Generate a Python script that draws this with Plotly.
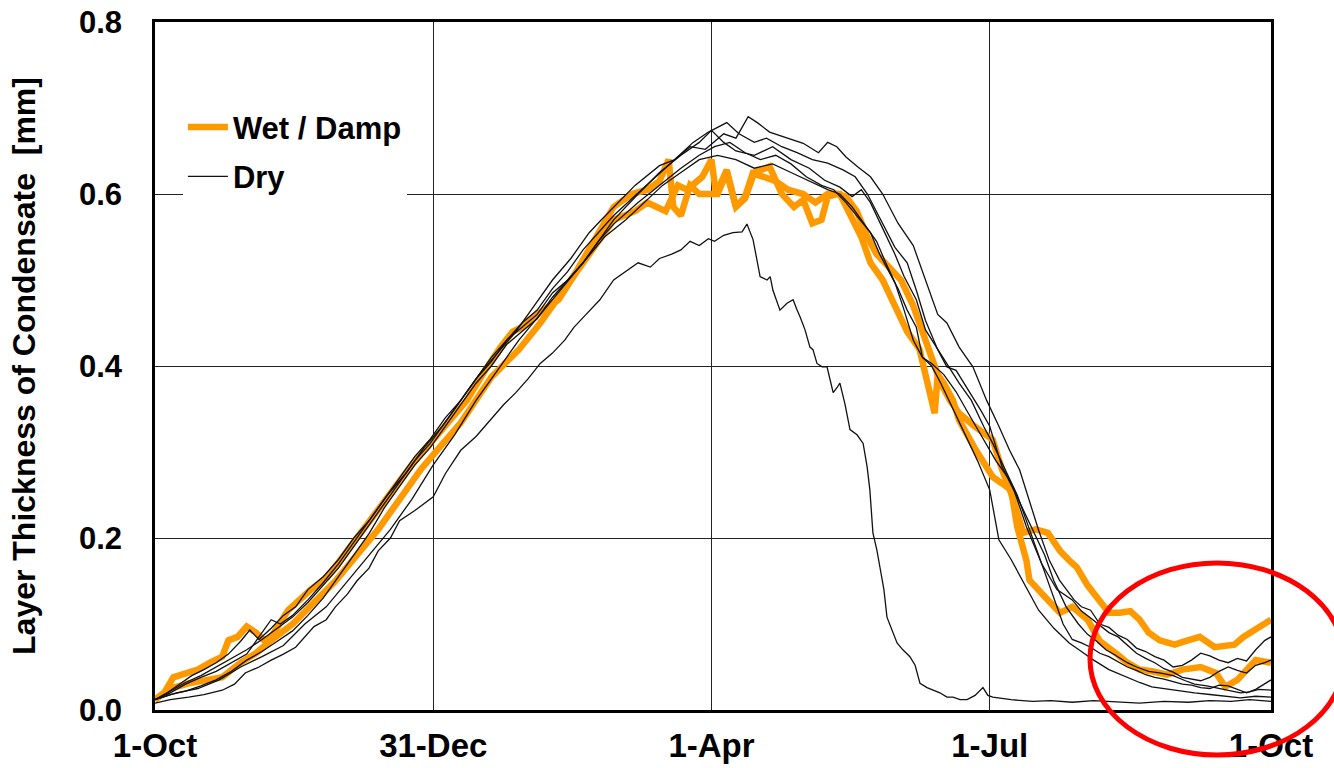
import plotly.graph_objects as go

# ---------------- data (day of year from 1-Oct, thickness in mm) ----------------
tick_days = [0, 91, 182, 273, 365]
tick_labels = ["1-Oct", "31-Dec", "1-Apr", "1-Jul", "1-Oct"]

wet1_days = [0, 3, 6, 10, 14, 18, 22, 24, 27, 30, 33, 36, 38, 43.5, 51, 56.5, 63, 70, 77, 84, 91, 98, 102,
             108, 113, 117, 120, 125, 132, 137, 141, 145, 150, 156, 161, 165, 168, 169.5, 172, 175, 178, 181,
             184, 187, 190, 193, 196, 201, 205, 209, 212, 215, 218, 220, 223, 226, 229.5, 233, 236, 240, 244,
             248, 251, 254, 257, 260, 263, 268, 274, 277, 280, 284, 288, 292, 296, 299, 301.5, 305, 309, 312,
             315.6, 319, 322, 325, 328.6, 333.5, 337, 341.7, 346.6, 353, 356, 359.7, 365]
wet1_vals = [0.012, 0.02, 0.038, 0.042, 0.047, 0.055, 0.062, 0.081, 0.085, 0.097, 0.09, 0.08, 0.085, 0.116,
             0.14, 0.155, 0.185, 0.22, 0.25, 0.285, 0.314, 0.345, 0.36, 0.395, 0.422, 0.44, 0.445, 0.46, 0.477,
             0.505, 0.53, 0.555, 0.585, 0.6, 0.605, 0.615, 0.64, 0.585, 0.575, 0.61, 0.6, 0.6, 0.6, 0.625,
             0.585, 0.595, 0.625, 0.632, 0.6, 0.585, 0.593, 0.566, 0.57, 0.597, 0.6, 0.597, 0.58, 0.55, 0.53,
             0.515, 0.5, 0.47, 0.44, 0.41, 0.38, 0.36, 0.345, 0.33, 0.314, 0.28, 0.252, 0.206, 0.21, 0.206,
             0.185, 0.174, 0.166, 0.145, 0.128, 0.113, 0.113, 0.115, 0.105, 0.09, 0.081, 0.076, 0.08, 0.085,
             0.073, 0.076, 0.085, 0.093, 0.105]

wet2_days = [0, 5, 11, 18, 22, 28, 33, 38, 45, 52, 59, 66, 73, 80, 87, 93, 100, 110, 119, 126, 133, 140, 146,
             150, 157, 161, 167, 171, 174, 179, 182, 183.5, 187, 190, 193, 195.5, 199, 203, 207, 212, 216, 220,
             224, 228, 231, 234, 238, 242, 246, 250, 252, 254, 255, 256, 258, 261, 263, 268, 274, 280, 282, 285,
             286, 292, 296, 300, 305, 309, 312, 315, 318, 322, 326, 331, 336, 342, 347, 350, 354, 360, 365]
wet2_vals = [0.012, 0.025, 0.031, 0.035, 0.038, 0.055, 0.066, 0.081, 0.1, 0.125, 0.15, 0.18, 0.21, 0.245,
             0.28, 0.305, 0.334, 0.387, 0.419, 0.45, 0.485, 0.52, 0.55, 0.57, 0.58, 0.59, 0.58, 0.61, 0.605,
             0.62, 0.64, 0.6, 0.628, 0.585, 0.597, 0.624, 0.62, 0.615, 0.605, 0.6, 0.59, 0.6, 0.6, 0.57, 0.55,
             0.52, 0.5, 0.47, 0.44, 0.42, 0.39, 0.36, 0.345, 0.39, 0.38, 0.36, 0.337, 0.305, 0.271, 0.256, 0.213,
             0.174, 0.151, 0.128, 0.113, 0.12, 0.105, 0.08, 0.073, 0.064, 0.055, 0.047, 0.045, 0.041, 0.047,
             0.05, 0.043, 0.027, 0.035, 0.058, 0.055]

dry1_days = [0, 5, 11, 16, 22, 26, 29.5, 34, 38, 42, 46, 49, 52, 56, 59, 63, 66, 70, 73, 77, 80, 85, 91, 95,
             100, 105, 110.5, 114, 118, 122, 126, 130, 134, 137, 141, 145.5, 150, 154, 158, 162, 165, 169, 172,
             175, 178, 181, 183, 186, 189, 192, 193.6, 195.6, 196.9, 197.9, 200.2, 201.2, 202.1, 204.4, 206.7,
             208.7, 210, 211, 212.6, 214.2, 215.2, 216.5, 218.2, 219.8, 220.8, 221.8, 223.1, 224, 225.7, 227.3,
             229.6, 231.6, 232.9, 233.8, 234.8, 236.1, 237.1, 238.4, 239.4, 241, 242.7, 244.6, 246.9, 248.6,
             250.2, 252.5, 254.5, 256.7, 259, 261, 263.3, 265.6, 268.2, 270.8, 272.4, 274, 280, 287, 293, 300,
             307, 314, 322, 330, 338, 345, 352, 358, 365]
dry1_vals = [0.008, 0.012, 0.015, 0.018, 0.023, 0.03, 0.043, 0.05, 0.058, 0.065, 0.073, 0.085, 0.097, 0.105,
             0.12, 0.135, 0.15, 0.165, 0.185, 0.2, 0.22, 0.232, 0.248, 0.275, 0.302, 0.318, 0.34, 0.355, 0.369,
             0.385, 0.403, 0.415, 0.43, 0.445, 0.46, 0.477, 0.5, 0.51, 0.52, 0.515, 0.525, 0.53, 0.535, 0.545,
             0.54, 0.548, 0.545, 0.552, 0.555, 0.556, 0.565, 0.547, 0.523, 0.504, 0.5, 0.504, 0.488, 0.465,
             0.473, 0.477, 0.465, 0.457, 0.442, 0.422, 0.419, 0.403, 0.399, 0.399, 0.384, 0.369, 0.375, 0.38,
             0.355, 0.326, 0.32, 0.31, 0.283, 0.256, 0.206, 0.186, 0.166, 0.14, 0.108, 0.093, 0.078, 0.07,
             0.062, 0.052, 0.031, 0.026, 0.023, 0.02, 0.015, 0.015, 0.012, 0.012, 0.017, 0.026, 0.017, 0.015,
             0.012, 0.01, 0.011, 0.009, 0.011, 0.01, 0.008, 0.01, 0.009, 0.011, 0.01, 0.012, 0.01]

dry2_days = [0, 4, 8, 12, 16, 20, 24, 28, 31, 34, 38, 42, 46, 50, 55, 60, 65, 70, 76, 82, 88, 94, 100, 106,
             112, 118, 124, 130, 136, 142, 146, 150, 157, 165, 170, 175, 180, 186, 190, 194, 197, 201, 206, 212,
             217, 220, 223, 226, 230, 234, 238, 243, 248, 252, 256, 259, 263, 267.5, 272, 276, 279.5, 282.8, 286,
             289, 292.5, 295.8, 300.6, 303, 306, 309, 312, 315, 318, 321, 324, 327, 330, 333, 336, 339, 342, 345,
             348, 351, 354, 357, 360, 363, 365]
dry2_vals = [0.012, 0.02, 0.03, 0.04, 0.047, 0.055, 0.065, 0.08, 0.093, 0.082, 0.095, 0.11, 0.12, 0.14, 0.155,
             0.175, 0.2, 0.22, 0.25, 0.275, 0.305, 0.33, 0.36, 0.39, 0.415, 0.44, 0.47, 0.5, 0.525, 0.555, 0.57,
             0.585, 0.61, 0.633, 0.64, 0.655, 0.652, 0.67, 0.665, 0.69, 0.683, 0.672, 0.666, 0.659, 0.648, 0.66,
             0.655, 0.643, 0.631, 0.62, 0.6, 0.566, 0.54, 0.5, 0.46, 0.45, 0.422, 0.399, 0.36, 0.33, 0.302,
             0.279, 0.244, 0.209, 0.174, 0.151, 0.128, 0.12, 0.116, 0.1, 0.096, 0.087, 0.082, 0.072, 0.068,
             0.062, 0.058, 0.05, 0.052, 0.058, 0.066, 0.063, 0.058, 0.055, 0.06, 0.057, 0.07, 0.081, 0.085]

dry3_days = [0, 5, 10, 15, 20, 25, 30, 35, 40, 45, 50, 55, 60, 65, 70, 75, 80, 85, 90, 95, 100, 105, 110, 115,
             120, 125, 130, 135, 140, 145, 150, 157, 164, 170, 176, 181, 187, 191, 196, 200, 205, 210, 215, 220,
             225, 229, 233, 237, 242, 246, 249, 252, 256, 259, 262, 266, 270, 273, 277, 281, 285, 290, 295, 300,
             303, 306, 309, 312, 315, 318, 321, 324, 327, 330, 333, 336, 339, 342, 345, 348, 351, 354, 357, 360,
             363, 365]
dry3_vals = [0.012, 0.022, 0.032, 0.04, 0.05, 0.06, 0.07, 0.082, 0.095, 0.108, 0.125, 0.145, 0.165, 0.19,
             0.215, 0.24, 0.265, 0.29, 0.31, 0.335, 0.36, 0.385, 0.405, 0.43, 0.45, 0.465, 0.49, 0.51, 0.535,
             0.555, 0.575, 0.598, 0.62, 0.64, 0.66, 0.672, 0.683, 0.67, 0.66, 0.665, 0.655, 0.648, 0.64, 0.636,
             0.628, 0.62, 0.6, 0.573, 0.538, 0.52, 0.488, 0.453, 0.419, 0.399, 0.395, 0.372, 0.349, 0.33, 0.283,
             0.255, 0.213, 0.17, 0.14, 0.128, 0.115, 0.107, 0.098, 0.09, 0.085, 0.075, 0.066, 0.06, 0.055, 0.048,
             0.044, 0.038, 0.036, 0.034, 0.038, 0.045, 0.05, 0.046, 0.043, 0.052, 0.055, 0.058]

dry4_days = [0, 5, 10, 15, 20, 25, 30, 34, 38, 41, 45, 50, 55, 60, 65, 70, 75, 80, 85, 90, 95, 100, 105, 110,
             115, 120, 125, 130, 135, 140, 145, 150, 158, 165, 172, 178, 182, 186, 190, 196, 202, 208, 214, 219,
             224, 228, 231, 234, 238, 242, 245, 249, 252, 256, 259, 263, 267, 271, 274, 278, 282, 286, 290, 294,
             297, 300, 303, 306, 309, 312, 315, 318, 321, 324, 327, 330, 333, 336, 339, 342, 345, 348, 351, 354,
             357, 360, 363, 365]
dry4_vals = [0.012, 0.02, 0.03, 0.038, 0.045, 0.055, 0.065, 0.085, 0.105, 0.1, 0.11, 0.128, 0.148, 0.17, 0.195,
             0.22, 0.245, 0.27, 0.295, 0.315, 0.34, 0.36, 0.385, 0.41, 0.43, 0.445, 0.46, 0.485, 0.5, 0.52, 0.545,
             0.57, 0.6, 0.625, 0.645, 0.66, 0.674, 0.66, 0.65, 0.645, 0.655, 0.64, 0.63, 0.616, 0.608, 0.597,
             0.605, 0.59, 0.56, 0.53, 0.504, 0.477, 0.442, 0.419, 0.403, 0.38, 0.36, 0.33, 0.31, 0.28, 0.25, 0.21,
             0.17, 0.13, 0.1, 0.082, 0.078, 0.073, 0.066, 0.062, 0.056, 0.05, 0.046, 0.041, 0.038, 0.036, 0.033,
             0.03, 0.029, 0.026, 0.025, 0.029, 0.028, 0.024, 0.02, 0.024, 0.03, 0.035]

dry5_days = [0, 5, 10, 15, 20, 25, 30, 35, 40, 45, 50, 55, 60, 65, 70, 75, 80, 85, 90, 95, 100, 105, 110, 115,
             120, 125, 130, 135, 140, 145, 150, 158, 165, 172, 178, 183, 188, 193, 198, 203, 208, 213, 218, 222,
             226, 230, 234, 237, 240, 243, 246, 249, 251, 254, 258, 262, 266, 270, 275, 279, 283, 287, 291, 294,
             298, 302, 305, 308, 311, 314, 318, 321, 325, 329, 333, 337, 340, 344, 348, 352, 355, 358, 361, 365]
dry5_vals = [0.012, 0.018, 0.022, 0.028, 0.035, 0.045, 0.058, 0.068, 0.08, 0.092, 0.11, 0.13, 0.155, 0.18,
             0.205, 0.235, 0.26, 0.285, 0.305, 0.33, 0.355, 0.38, 0.4, 0.425, 0.44, 0.455, 0.48, 0.5, 0.52, 0.545,
             0.565, 0.59, 0.61, 0.63, 0.645, 0.655, 0.66, 0.648, 0.64, 0.645, 0.635, 0.62, 0.61, 0.605, 0.59,
             0.573, 0.555, 0.53, 0.51, 0.49, 0.465, 0.445, 0.41, 0.403, 0.39, 0.37, 0.345, 0.32, 0.29, 0.27, 0.24,
             0.21, 0.18, 0.15, 0.12, 0.1, 0.088, 0.08, 0.07, 0.064, 0.055, 0.05, 0.045, 0.043, 0.04, 0.034, 0.03,
             0.028, 0.025, 0.022, 0.02, 0.021, 0.024, 0.023]

dry6_days = [0, 7, 14, 21, 28, 35, 42, 49, 56, 63, 70, 77, 84, 91, 98, 105, 112, 119, 126, 133, 140, 147, 154,
             160, 166, 172, 178, 184, 190, 196, 202, 208, 214, 220, 224, 228, 232, 236, 239, 242, 245, 248, 251,
             254, 257, 261, 265, 269, 273, 276, 280, 283, 289, 294, 299, 303, 307, 312, 318, 322, 326, 330, 335,
             340, 345, 350, 355, 360, 365]
dry6_vals = [0.012, 0.02, 0.025, 0.035, 0.05, 0.062, 0.075, 0.1, 0.12, 0.15, 0.18, 0.21, 0.245, 0.285, 0.32,
             0.36, 0.395, 0.43, 0.46, 0.49, 0.52, 0.55, 0.57, 0.59, 0.61, 0.625, 0.64, 0.645, 0.64, 0.63, 0.635,
             0.625, 0.615, 0.605, 0.6, 0.585, 0.565, 0.545, 0.52, 0.497, 0.465, 0.43, 0.41, 0.4, 0.38, 0.35,
             0.32, 0.29, 0.256, 0.198, 0.175, 0.155, 0.116, 0.095, 0.078, 0.068, 0.058, 0.047, 0.038, 0.032,
             0.027, 0.025, 0.022, 0.02, 0.018, 0.016, 0.014, 0.016, 0.015]

wet_series = [(wet1_days, wet1_vals), (wet2_days, wet2_vals)]
dry_series = [(dry1_days, dry1_vals), (dry2_days, dry2_vals), (dry3_days, dry3_vals),
              (dry4_days, dry4_vals), (dry5_days, dry5_vals), (dry6_days, dry6_vals)]
for d, v in wet_series + dry_series:
    assert len(d) == len(v), (len(d), len(v))

# ---------------- figure ----------------
ORANGE = "#FF9900"
FONT = "Liberation Sans"

fig = go.Figure()
for i, (d, v) in enumerate(wet_series):
    fig.add_trace(go.Scatter(x=d, y=v, mode="lines", name="Wet / Damp", legendgroup="wet",
                             showlegend=(i == 0), line=dict(color=ORANGE, width=6.5)))
for i, (d, v) in enumerate(dry_series):
    fig.add_trace(go.Scatter(x=d, y=v, mode="lines", name="Dry", legendgroup="dry",
                             showlegend=(i == 0), line=dict(color="#111111", width=1.3)))

fig.update_layout(
    width=1334, height=768,
    margin=dict(l=155, r=63, t=22, b=58, autoexpand=False),
    paper_bgcolor="white", plot_bgcolor="white",
    font=dict(family=FONT, color="black"),
    showlegend=True,
    legend=dict(x=0.025, y=0.886, xanchor="left", yanchor="top",
                bgcolor="white", borderwidth=0,
                font=dict(family=FONT, size=31, color="black", weight="bold"),
                itemwidth=40, tracegroupgap=6),
    xaxis=dict(range=[0, 365], tickmode="array", tickvals=tick_days, ticktext=tick_labels,
               showgrid=True, gridcolor="#222222", gridwidth=1.3,
               showline=True, linecolor="black", linewidth=2.5, mirror=True,
               ticks="", zeroline=False, automargin=False,
               tickfont=dict(family=FONT, size=33, color="black", weight="bold"),
               ticklabelstandoff=5),
    yaxis=dict(range=[0, 0.8], dtick=0.2, tick0=0, tickformat=".1f",
               showgrid=True, gridcolor="#222222", gridwidth=1.3,
               showline=True, linecolor="black", linewidth=2.5, mirror=True,
               ticks="", zeroline=False, automargin=False,
               tickfont=dict(family=FONT, size=31, color="black", weight="bold"),
               ticklabelstandoff=24,
               title=dict(text="Layer Thickness of Condensate  [mm]",
                          font=dict(family=FONT, size=32, color="black", weight="bold"),
                          standoff=34)),
)

# red ellipse highlight (paper coordinates relative to the plot area)
fig.add_shape(type="circle", xref="paper", yref="paper",
              x0=0.8378, x1=1.0654, y0=-0.0654, y1=0.2137,
              line=dict(color="#FF0000", width=5), fillcolor="rgba(0,0,0,0)", layer="above")

fig.write_html("out.html", config={"displayModeBar": False},
               post_script="document.body.style.margin='0';")
